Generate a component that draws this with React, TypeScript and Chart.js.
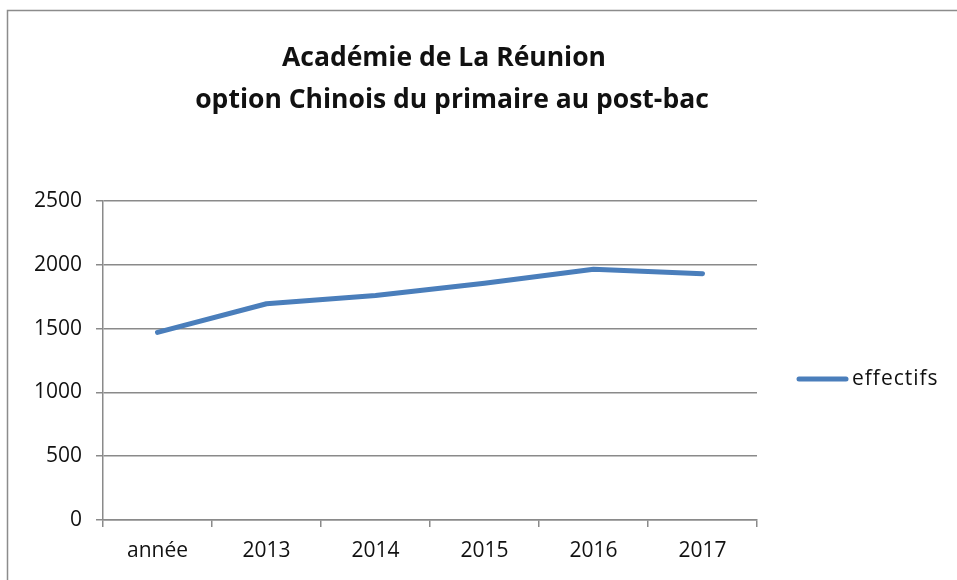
import React, { useEffect, useRef } from "react";
import { Chart, registerables } from "chart.js";

Chart.register(...registerables);

const categories = ["année", "2013", "2014", "2015", "2016", "2017"];
const effectifs = [1470, 1695, 1760, 1855, 1965, 1930];
const seriesName = "effectifs";
const titleLines = ["Académie de La Réunion", "option Chinois du primaire au post-bac"];
const yMin = 0;
const yMax = 2500;
const yStep = 500;

const FONT = "'Open Sans', 'Noto Sans', sans-serif";
const LINE_COLOR = "#4A7EBB";
const GRID_COLOR = "#8a8a8a";
const TEXT_COLOR = "#111111";

const decorPlugin = {
  id: "decor",
  beforeDraw(chart: any) {
    const ctx = chart.ctx;
    ctx.save();
    ctx.fillStyle = "#ffffff";
    ctx.fillRect(0, 0, chart.width, chart.height);
    ctx.strokeStyle = "#8c8c8c";
    ctx.lineWidth = 1.5;
    ctx.strokeRect(7.5, 10.5, chart.width + 20, chart.height + 20);
    ctx.restore();
  },
  afterDraw(chart: any) {
    const ctx = chart.ctx;
    ctx.save();
    // title
    ctx.fillStyle = TEXT_COLOR;
    ctx.font = `bold 26.5px ${FONT}`;
    ctx.textAlign = "center";
    ctx.textBaseline = "middle";
    ctx.fillText(titleLines[0], 444, 58);
    ctx.fillText(titleLines[1], 452, 100);
    // legend
    ctx.strokeStyle = LINE_COLOR;
    ctx.lineWidth = 5;
    ctx.lineCap = "round";
    ctx.beginPath();
    ctx.moveTo(799, 379);
    ctx.lineTo(846, 379);
    ctx.stroke();
    ctx.font = `21px ${FONT}`;
    ctx.textAlign = "left";
    try {
      (ctx as any).letterSpacing = "1px";
    } catch (e) {}
    ctx.fillText(seriesName, 852, 379);
    ctx.restore();
  },
};

export default function App() {
  const ref = useRef<HTMLCanvasElement | null>(null);
  useEffect(() => {
    if (!ref.current) return;
    const chart = new Chart(ref.current, {
      type: "line",
      data: {
        labels: categories,
        datasets: [
          {
            label: seriesName,
            data: effectifs,
            borderColor: LINE_COLOR,
            backgroundColor: LINE_COLOR,
            borderWidth: 5,
            pointRadius: 0,
            tension: 0,
            borderCapStyle: "round",
            borderJoinStyle: "round",
          },
        ],
      },
      options: {
        animation: false,
        responsive: true,
        maintainAspectRatio: false,
        layout: { padding: { left: 0, top: 201, right: 200, bottom: 0 } },
        plugins: {
          legend: { display: false },
          title: { display: false },
          tooltip: { enabled: false },
        },
        scales: {
          x: {
            type: "category",
            offset: true,
            afterFit: (s: any) => {
              s.height = 60;
            },
            grid: {
              offset: true,
              drawOnChartArea: false,
              drawTicks: true,
              tickLength: 7,
              color: GRID_COLOR,
              lineWidth: 1.5,
            },
            border: { display: true, color: GRID_COLOR, width: 1.5 },
            ticks: {
              color: TEXT_COLOR,
              font: { family: FONT, size: 21 },
              padding: 11,
              maxRotation: 0,
            },
          },
          y: {
            min: yMin,
            max: yMax,
            afterFit: (s: any) => {
              s.width = 103;
            },
            ticks: {
              stepSize: yStep,
              color: TEXT_COLOR,
              font: { family: FONT, size: 21 },
              padding: 14,
              callback: (v: any) => String(v),
            },
            grid: {
              drawTicks: true,
              tickLength: 7,
              color: GRID_COLOR,
              lineWidth: 1.5,
            },
            border: { display: true, color: GRID_COLOR, width: 1.5 },
          },
        },
      },
      plugins: [decorPlugin],
    });
    return () => chart.destroy();
  }, []);
  return (
    <div style={{ position: "fixed", left: 0, top: 0, width: 957, height: 580, background: "#fff" }}>
      <canvas ref={ref} />
    </div>
  );
}
